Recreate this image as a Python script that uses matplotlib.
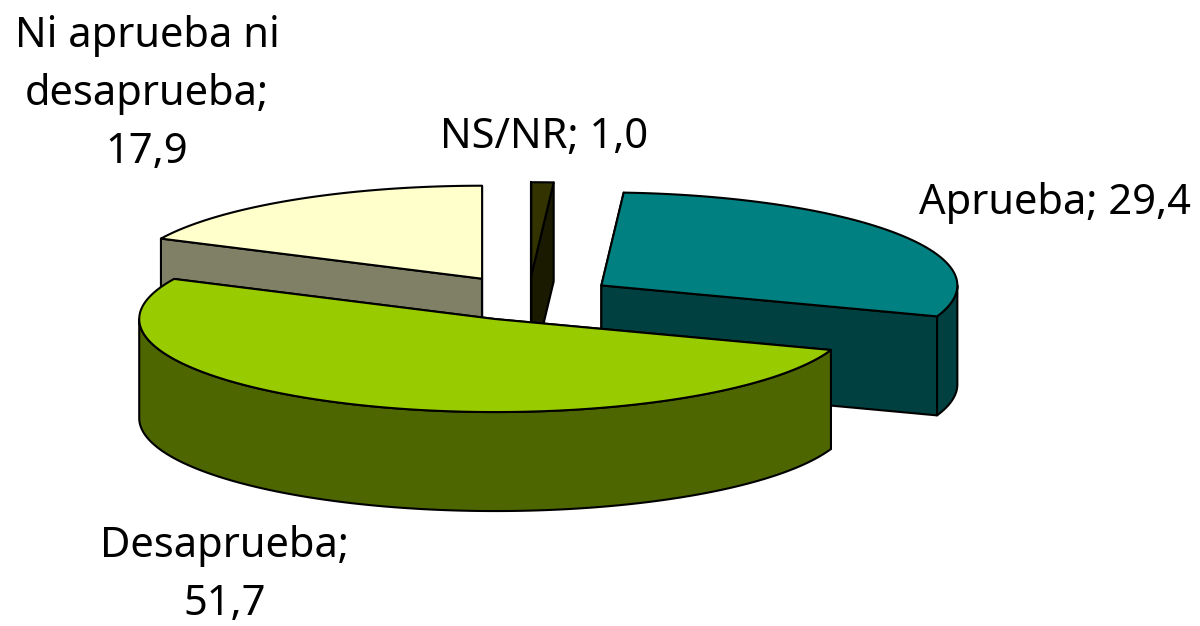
import numpy as np
import matplotlib
matplotlib.use("Agg")
import matplotlib.pyplot as plt
from matplotlib.patches import Polygon

# datos, en el orden del grafico (sentido horario desde las 12)
categorias = ["NS/NR", "Aprueba", "Desaprueba", "Ni aprueba ni\ndesaprueba"]
valores = [1.0, 29.4, 51.7, 17.9]
separador = [";", ";", ";\n", ";\n"]

color_sup = ["#333300", "#008080", "#99CC00", "#FFFFCC"]
color_lado = ["#1A1A00", "#004040", "#4D6600", "#808066"]

# posicion de cada etiqueta (pixeles)
pos_etiqueta = [(544, 137), (1055, 203), (225, 575), (147, 94)]
orden_dibujo = [3, 0, 1, 2]

# geometria de la torta
cx, cy = 528.6, 298
rx, ry = 356, 93
alto = 99
explode = 0.245


def punto(ang, x0, y0):
    a = np.radians(ang)
    return x0 + rx * np.sin(a), y0 - ry * np.cos(a)


def arco(a1, a2, x0, y0):
    angs = np.linspace(a1, a2, max(int(abs(a2 - a1)) * 2, 2))
    return [punto(a, x0, y0) for a in angs]


fig = plt.figure(figsize=(12, 6.26), dpi=100)
ax = fig.add_axes([0, 0, 1, 1])
ax.set_xlim(0, 1200)
ax.set_ylim(626, 0)
ax.axis("off")

total = sum(valores)
fin = np.cumsum(valores) / total * 360
inicio = np.concatenate(([0], fin[:-1]))

for i in orden_dibujo:
    a1, a2 = inicio[i], fin[i]
    medio = np.radians((a1 + a2) / 2)
    x0 = cx + explode * rx * np.sin(medio)
    y0 = cy - explode * ry * np.cos(medio)
    estilo = dict(edgecolor="black", linewidth=1.5, joinstyle="round")

    # caras de los cortes
    for a in (a1, a2):
        px, py = punto(a, x0, y0)
        cara = [(x0, y0), (px, py), (px, py + alto), (x0, y0 + alto)]
        ax.add_patch(Polygon(cara, facecolor=color_lado[i], **estilo))

    # pared exterior, solo la mitad de adelante
    d1, d2 = max(a1, 90), min(a2, 270)
    if d2 > d1:
        borde = arco(d1, d2, x0, y0)
        pared = borde + [(x, y + alto) for x, y in borde[::-1]]
        ax.add_patch(Polygon(pared, facecolor=color_lado[i], **estilo))

    # tapa
    tapa = [(x0, y0)] + arco(a1, a2, x0, y0)
    ax.add_patch(Polygon(tapa, facecolor=color_sup[i], **estilo))

for i in range(len(valores)):
    texto = categorias[i] + separador[i]
    if not separador[i].endswith("\n"):
        texto += " "
    texto += f"{valores[i]:.1f}".replace(".", ",")
    ax.text(pos_etiqueta[i][0], pos_etiqueta[i][1], texto, ha="center", va="center",
            family="Noto Sans", fontsize=30, color="black", linespacing=1.5,
            multialignment="center")

fig.savefig("out.png", dpi=100)
